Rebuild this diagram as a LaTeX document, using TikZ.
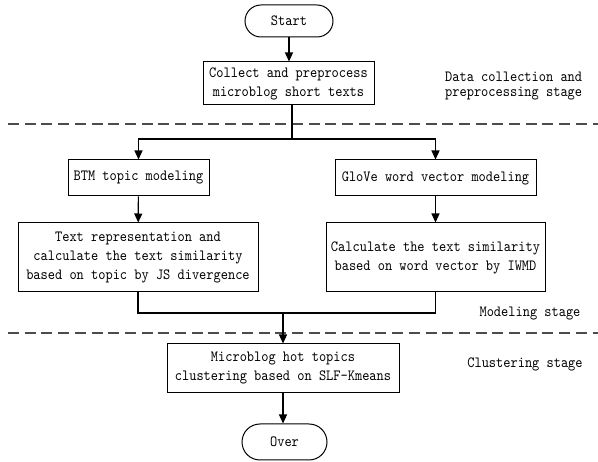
\documentclass[tikz,border=0pt]{standalone}
\usepackage{fontspec}
\newfontfamily\dfont[Extension=.otf, FakeStretch=0.88]{lmmono10-regular}
\usetikzlibrary{arrows.meta,shapes.misc}
\begin{document}
\begin{tikzpicture}[x=1pt,y=-1pt,
  base/.style={draw, line width=1pt, align=center, inner sep=0pt,
    font=\dfont\fontsize{15.6}{19}\selectfont},
  box/.style={base, rectangle},
  pill/.style={base, rounded rectangle},
  arr/.style={-{Triangle[length=9pt,width=8pt]}, line width=1.2pt},
  ln/.style={line width=1.2pt},
  sep/.style={dash pattern=on 11pt off 5.7pt, line width=2pt, draw=black!70},
  lab/.style={align=left, inner sep=0pt, font=\dfont\fontsize{15.6}{15}\selectfont}]
\useasboundingbox (0,0) rectangle (598,462);

\node[pill, minimum width=88pt, minimum height=32pt] (start) at (289,21) {Start};
\node[box, minimum width=171pt, minimum height=43pt] (collect) at (288.5,83.5)
  {Collect and preprocess\\microblog short texts};
\node[box, minimum width=141pt, minimum height=36pt] (btm) at (138.5,178)
  {BTM topic modeling};
\node[box, minimum width=240pt, minimum height=69pt] (textrep) at (138,257.5)
  {Text representation and\\calculate the text similarity\\based on topic by JS divergence};
\node[box, minimum width=201pt, minimum height=36pt] (glove) at (435.5,178)
  {GloVe word vector modeling};
\node[box, minimum width=219pt, minimum height=69pt] (calc) at (435.5,257.5)
  {Calculate the text similarity\\based on word vector by IWMD};
\node[box, minimum width=232pt, minimum height=49pt] (micro) at (283,368.5)
  {Microblog hot topics\\clustering based on SLF-Kmeans};
\node[pill, minimum width=85pt, minimum height=36pt] (over) at (284.5,442) {Over};

\node[lab, anchor=west] (lab1) at (445,86) {Data collection and\\preprocessing stage};
\node[lab] (lab2) at (530,314) {Modeling stage};
\node[lab] (lab3) at (525,364) {Clustering stage};

\draw[sep] (8,124) -- (598,124);
\draw[sep] (8,333) -- (598,333);

\coordinate (br) at (292,139);
\coordinate (mg) at (283,313);
\draw[arr] (start.south) -- (start.south |- collect.north);
\draw[ln] (collect.south -| br) -- (br);
\draw[arr] (br) -| (btm.north);
\draw[arr] (br) -| (glove.north);
\draw[arr] (btm) -- (textrep);
\draw[arr] (glove) -- (calc);
\draw[ln] (textrep.south) |- (mg);
\draw[ln] (calc.south) |- (mg);
\draw[arr] (mg) -- (micro.north);
\draw[arr] (micro.south) -- (micro.south |- over.north);
\end{tikzpicture}
\end{document}
